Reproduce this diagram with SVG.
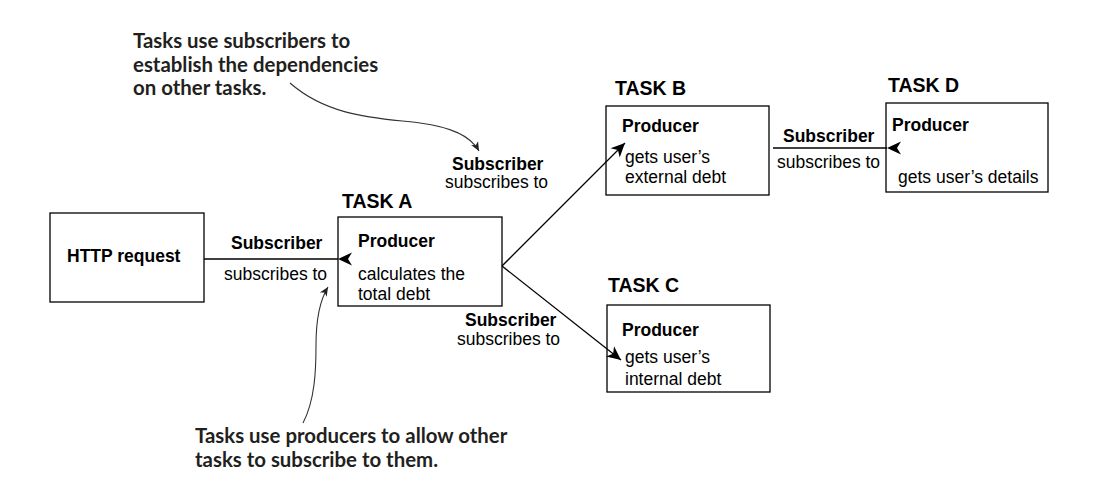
<svg xmlns="http://www.w3.org/2000/svg" width="1116" height="484" viewBox="0 0 1116 484">
<style>
.box{fill:#fff;stroke:#000;stroke-width:1.3}
.t{font-family:"Liberation Sans",Arial,sans-serif;font-size:17.5px;fill:#000}
.b{font-weight:bold}
.task{font-family:"Liberation Sans",Arial,sans-serif;font-size:19.5px;font-weight:bold;fill:#000}
.note{font-family:Lato,"Open Sans",sans-serif;font-size:20.4px;font-weight:bold;fill:#231f20}
.conn{stroke:#000;stroke-width:1.3;fill:none}
.curve{stroke:#333;stroke-width:1.1;fill:none}
</style>
<defs>
<marker id="ah" viewBox="-15 -8 16 16" refX="0" refY="0" markerWidth="16" markerHeight="16" markerUnits="userSpaceOnUse" orient="auto">
<path d="M0,0 L-14,-6.5 L-10,0 L-14,6.5 Z" fill="#000"/>
</marker>
<marker id="sh" viewBox="-10 -5 11 10" refX="0" refY="0" markerWidth="11" markerHeight="10" markerUnits="userSpaceOnUse" orient="auto">
<path d="M0,0 L-9,-4 L-6.5,0 L-9,4 Z" fill="#222"/>
</marker>
</defs>

<g id="http">
<rect class="box" x="50" y="213" width="154" height="89"/>
<text class="t b" x="67" y="262">HTTP request</text>
</g>

<g id="taskA">
<text class="task" x="342" y="208">TASK A</text>
<rect class="box" x="338" y="217" width="164" height="89"/>
<text class="t b" x="358" y="247">Producer</text>
<text class="t" x="358" y="280">calculates the</text>
<text class="t" x="358" y="300">total debt</text>
</g>

<g id="taskB">
<text class="task" x="615" y="95">TASK B</text>
<rect class="box" x="606" y="106" width="163" height="89"/>
<text class="t b" x="622" y="132">Producer</text>
<text class="t" x="625" y="163">gets user’s</text>
<text class="t" x="625" y="183">external debt</text>
</g>

<g id="taskC">
<text class="task" x="608" y="292">TASK C</text>
<rect class="box" x="607" y="305" width="163" height="87"/>
<text class="t b" x="622" y="336">Producer</text>
<text class="t" x="625" y="363">gets user’s</text>
<text class="t" x="625" y="385">internal debt</text>
</g>

<g id="taskD">
<text class="task" x="888" y="92">TASK D</text>
<rect class="box" x="886" y="103" width="162" height="89"/>
<text class="t b" x="892" y="131">Producer</text>
<text class="t" x="898" y="183">gets user’s details</text>
</g>

<g id="connectors">
<path class="conn" d="M338,259 L204,259" marker-start="url(#ah)"/>
<path class="conn" d="M887,148 L773,148" marker-start="url(#ah)"/>
<path class="conn" d="M502,266 L625,143" marker-end="url(#ah)"/>
<path class="conn" d="M502,266 L621,360" marker-end="url(#ah)"/>
<text class="t b" x="231" y="249">Subscriber</text>
<text class="t" x="224" y="280">subscribes to</text>
<text class="t b" x="452" y="170">Subscriber</text>
<text class="t" x="445" y="188">subscribes to</text>
<text class="t b" x="465" y="326">Subscriber</text>
<text class="t" x="457" y="345">subscribes to</text>
<text class="t b" x="783" y="142">Subscriber</text>
<text class="t" x="777" y="168">subscribes to</text>
</g>

<g id="note-subscribers">
<text class="note" x="133" y="48">Tasks use subscribers to</text>
<text class="note" x="133" y="72">establish the dependencies</text>
<text class="note" x="133" y="95">on other tasks.</text>
<path class="curve" d="M290,83 C330,118 380,118 420,123 C450,127 470,135 479,151" marker-end="url(#sh)"/>
</g>

<g id="note-producers">
<text class="note" x="195" y="443">Tasks use producers to allow other</text>
<text class="note" x="195" y="467">tasks to subscribe to them.</text>
<path class="curve" d="M303,423 C315,400 316,370 316,345 C316,320 320,300 328,287" marker-end="url(#sh)"/>
</g>
</svg>
